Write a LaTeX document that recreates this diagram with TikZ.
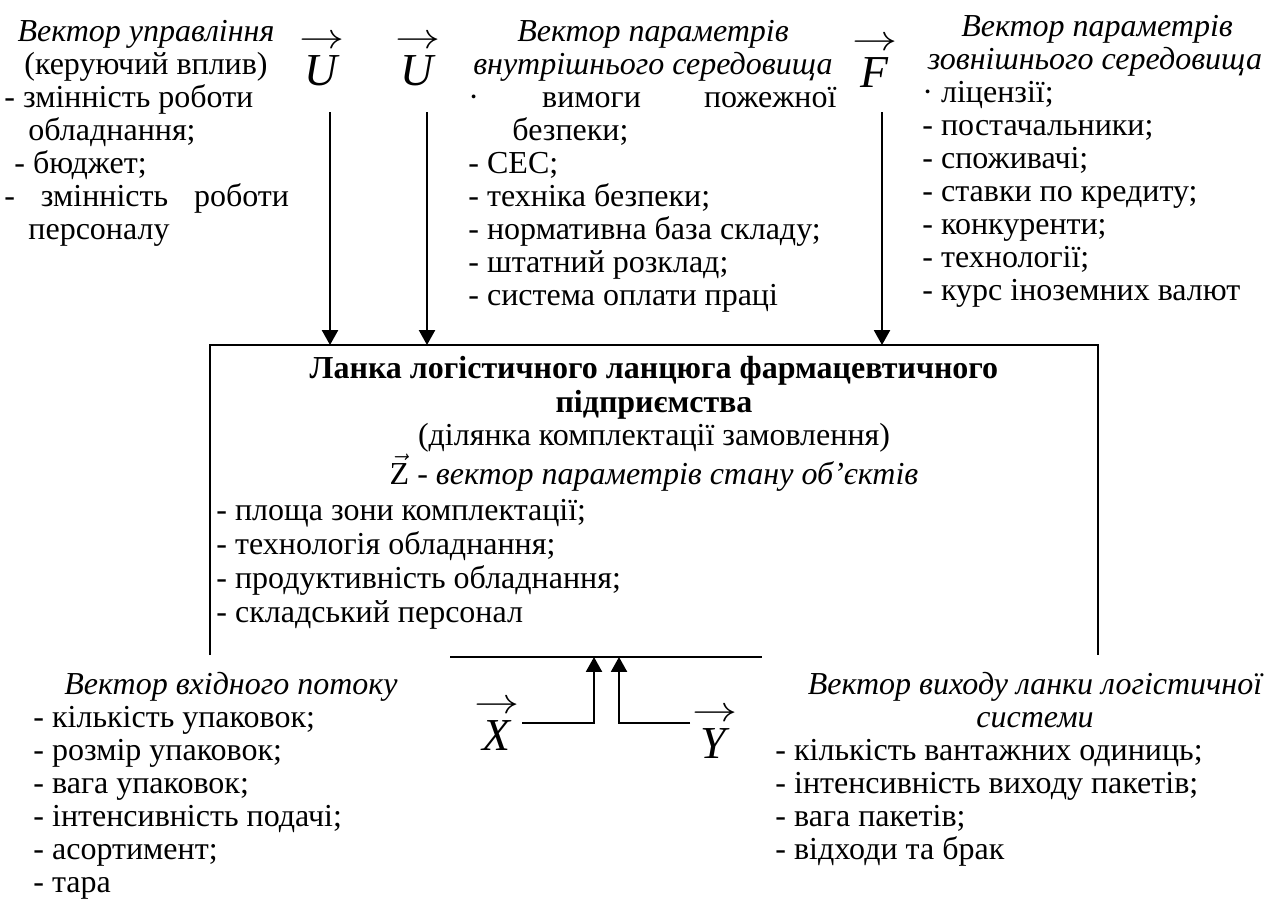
\documentclass[tikz,border=0pt]{standalone}
\usepackage{fontspec}
\usepackage{amsmath}
\setmainfont{Liberation Serif}
\usetikzlibrary{arrows.meta}
\usetikzlibrary{positioning}

% letter with a thin arrow above it
\newcommand{\vecsym}[1]{\shortstack{\scalebox{0.95}[0.75]{$\rightarrow$}\\[0pt]\textit{#1}}}

\tikzset{
  txt/.style={inner sep=0pt, anchor=base west, font=\fontsize{14}{14.4}\selectfont},
  head/.style={inner sep=0pt, anchor=base, font=\fontsize{14}{14.4}\selectfont\itshape},
  vect/.style={inner sep=0pt, anchor=base, font=\fontsize{20}{20}\selectfont},
  flow/.style={line width=0.85pt, -{Triangle[width=7pt,length=6.5pt]}},
  frame/.style={line width=0.85pt},
}

\begin{document}
\begin{tikzpicture}[x=0.4375pt, y=-0.4375pt]
    \useasboundingbox (0,0) rectangle (1274,910);

    % control vector
    \node[head] (ctrlhead) at (146,41) {Вектор управління};
    \node[head, font=\fontsize{14}{14.4}\selectfont] (ctrlsub) at (146,74) {(керуючий вплив)};
    \node[txt] (ctrl1) at (4,107) {- змінність роботи};
    \node[txt] (ctrl2) at (28,140) {обладнання;};
    \node[txt] (ctrl3) at (14,173) {- бюджет;};
    \node[txt] (ctrl4) at (4,206) {\makebox[124.5pt][s]{- змінність роботи}};
    \node[txt] (ctrl5) at (28,239) {персоналу};

    % internal environment
    \node[head] (inthead) at (653,41) {Вектор параметрів};
    \node[head] (inthead2) at (653,74) {внутрішнього середовища};
    \node[txt] (int1) at (468,107) {\makebox[161pt][s]{· вимоги пожежної}};
    \node[txt] (int2) at (512,140) {безпеки;};
    \foreach \t [count=\i] in {- СЕС;, - техніка безпеки;, - нормативна база складу;,
        - штатний розклад;, - система оплати праці}
        \node[txt] (intl\i) at (468,140+33*\i) {\t};

    % external environment
    \node[head] (exthead) at (1097,36) {Вектор параметрів};
    \node[head] (exthead2) at (1095,69) {зовнішнього середовища};
    \node[txt] (ext1) at (922,102) {· ліцензії;};
    \foreach \t [count=\i] in {- постачальники;, - споживачі;, - ставки по кредиту;,
        - конкуренти;, - технології;, - курс іноземних валют}
        \node[txt] (extl\i) at (922,102+33*\i) {\t};

    % vectors on top
    \node[vect] (u1) at (322,85) {\vecsym{U}};
    \node[vect] (u2) at (418,85) {\vecsym{U}};
    \node[vect] (f) at (875,87) {\vecsym{F}};

    % the link itself
    \coordinate (tl) at (210,345);
    \coordinate (tr) at (1098,345);
    \coordinate (bl) at (210,655);
    \coordinate (br) at (1098,655);
    \draw[frame] (bl) -- (tl) -- (tr) -- (br);
    \coordinate (gapl) at (450,657);
    \coordinate (gapr) at (762,657);
    \draw[frame] (gapl) -- (gapr);

    \node[head, font=\fontsize{14}{14.4}\selectfont\bfseries] (title1) at (654,378) {Ланка логістичного ланцюга фармацевтичного};
    \node[head, font=\fontsize{14}{14.4}\selectfont\bfseries] (title2) at (654,412) {підприємства};
    \node[head, font=\fontsize{14}{14.4}\selectfont] (area) at (654,445) {(ділянка комплектації замовлення)};
    \node[head, font=\fontsize{14}{14.4}\selectfont] (zvec) at (654,484) {$\vec{\text{Z}}$ - \textit{вектор параметрів стану об’єктів}};
    \foreach \t [count=\i] in {- площа зони комплектації;, - технологія обладнання;,
        - продуктивність обладнання;, - складський персонал}
        \node[txt] (obj\i) at (216,486+34*\i) {\t};

    % arrows into the link
    \coordinate (u1s) at (330,112);
    \coordinate (u2s) at (427,112);
    \coordinate (fs) at (882,112);
    \draw[flow] (u1s) -- (u1s |- tl);
    \draw[flow] (u2s) -- (u2s |- tl);
    \draw[flow] (fs) -- (fs |- tl);

    % input / output
    \node[vect] (x) at (497,750) {\vecsym{X}};
    \node[vect] (y) at (715,758) {\vecsym{Y}};
    \coordinate (xs) at (522,723);
    \coordinate (xin) at (594,657);
    \coordinate (ys) at (690,723);
    \coordinate (yin) at (619,657);
    \draw[flow] (xs) -| (xin);
    \draw[flow] (ys) -| (yin);

    % input flow
    \node[head] (inhead) at (231,694) {Вектор вхідного потоку};
    \foreach \t [count=\i] in {- кількість упаковок;, - розмір упаковок;, - вага упаковок;,
        - інтенсивність подачі;, - асортимент;, - тара}
        \node[txt] (inl\i) at (33,694+33*\i) {\t};

    % output
    \node[head] (outhead) at (1035,694) {Вектор виходу ланки логістичної};
    \node[head] (outhead2) at (1035,727) {системи};
    \foreach \t [count=\i] in {- кількість вантажних одиниць;, - інтенсивність виходу пакетів;,
        - вага пакетів;, - відходи та брак}
        \node[txt] (outl\i) at (775,727+33*\i) {\t};
\end{tikzpicture}
\end{document}
